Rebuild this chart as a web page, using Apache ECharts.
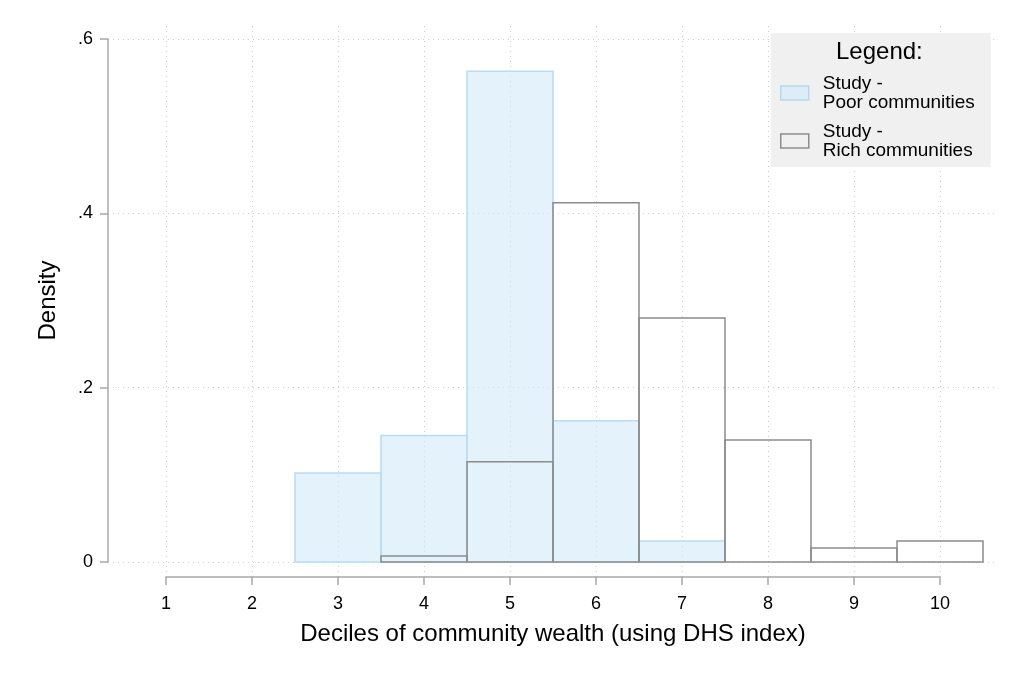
<!DOCTYPE html>
<html lang="en">
<head>
    <meta charset="UTF-8">
    <title>Deciles of community wealth</title>
    <script type="text/javascript" src="https://cdn.jsdelivr.net/npm/echarts@6/dist/echarts.min.js"></script>
    <style>
        html, body { margin: 0; padding: 0; background: #fff; }
    </style>
</head>
<body>
    <div id="main" style="width: 1023px;height:682px;"></div>
    <script type="text/javascript">
        // decile bins (bar centre) and densities
        const poorBins = [3, 4, 5, 6, 7];
        const poorDensity = [0.102, 0.145, 0.563, 0.162, 0.024];

        const richBins = [4, 5, 6, 7, 8, 9, 10];
        const richDensity = [0.007, 0.115, 0.412, 0.280, 0.140, 0.016, 0.024];

        const xTicks = [1, 2, 3, 4, 5, 6, 7, 8, 9, 10];
        const yTicks = [0, 0.2, 0.4, 0.6];

        const poorName = 'Study -\nPoor communities';
        const richName = 'Study -\nRich communities';

        const font = '"Liberation Sans", Arial, sans-serif';
        const axisGrey = '#a8a8a8';
        const gridGrey = '#cfcfcf';

        // plot area spans a bit more than 1..10 on each side (58px of 86px per unit)
        const pad = 58 / 86;

        var myChart = echarts.init(document.getElementById('main'));

        function histItem(bins, style) {
            return function (params, api) {
                var b = bins[params.dataIndex];
                var p0 = api.coord([b - 0.5, 0]);
                var p1 = api.coord([b + 0.5, api.value(1)]);
                return {
                    type: 'rect',
                    shape: { x: p0[0], y: p1[1], width: p1[0] - p0[0], height: p0[1] - p1[1] },
                    style: style
                };
            };
        }

        var option = {
            backgroundColor: '#fff',
            animation: false,
            textStyle: { fontFamily: font },
            grid: [
                { left: 108, right: 25, top: 39, bottom: 120 },
                { left: 166, right: 83, top: 26, bottom: 105 }
            ],
            xAxis: [
                {
                    type: 'value', gridIndex: 0,
                    min: xTicks[0] - pad, max: xTicks[xTicks.length - 1] + pad,
                    show: false
                },
                {
                    type: 'value', gridIndex: 1,
                    min: xTicks[0], max: xTicks[xTicks.length - 1], interval: 1,
                    axisLine: { show: true, lineStyle: { color: axisGrey, width: 1.5 } },
                    axisTick: { show: true, length: 8, lineStyle: { color: axisGrey, width: 1.5 } },
                    axisLabel: { fontSize: 18, color: '#000', margin: 18, fontFamily: font },
                    splitLine: { show: true, lineStyle: { color: gridGrey, type: [1, 4], width: 1 } },
                    name: 'Deciles of community wealth (using DHS index)',
                    nameLocation: 'middle', nameGap: 45,
                    nameTextStyle: { fontSize: 24, color: '#000', fontFamily: font }
                }
            ],
            yAxis: [
                {
                    type: 'value', gridIndex: 0,
                    min: yTicks[0], max: yTicks[yTicks.length - 1], interval: 0.2,
                    axisLine: { show: true, lineStyle: { color: axisGrey, width: 1.5 } },
                    axisTick: { show: true, length: 8, lineStyle: { color: axisGrey, width: 1.5 } },
                    axisLabel: {
                        fontSize: 18, color: '#000', margin: 15, fontFamily: font,
                        formatter: function (v) { return v === 0 ? '0' : String(+v.toFixed(1)).replace('0.', '.'); }
                    },
                    splitLine: { show: true, lineStyle: { color: gridGrey, type: [1, 4], width: 1 } },
                    name: 'Density', nameLocation: 'middle', nameGap: 48, nameRotate: 90,
                    nameTextStyle: { fontSize: 24, color: '#000', fontFamily: font }
                },
                { type: 'value', gridIndex: 1, min: 0, max: 0.6, show: false }
            ],
            legend: {
                orient: 'vertical',
                left: 771, top: 33,
                padding: [41, 16, 7, 9],
                itemGap: 10,
                itemWidth: 28, itemHeight: 14,
                backgroundColor: '#f0f0f0',
                selectedMode: false,
                textStyle: { fontSize: 19, lineHeight: 19, color: '#000', fontFamily: font, padding: [0, 0, 0, 9] },
                data: [
                    { name: poorName, icon: 'rect', itemStyle: { color: '#dcedf7', borderColor: '#b3d9f0', borderWidth: 1.5 } },
                    { name: richName, icon: 'rect', itemStyle: { color: '#f0f0f0', borderColor: '#8c8c8c', borderWidth: 1.5 } }
                ]
            },
            graphic: [{
                type: 'text', left: 836, top: 40, z: 100,
                style: { text: 'Legend:', fontSize: 24, fill: '#000', fontFamily: font }
            }],
            series: [
                {
                    name: poorName, type: 'custom', xAxisIndex: 0, yAxisIndex: 0,
                    renderItem: histItem(poorBins, { fill: 'rgba(205,232,248,0.55)', stroke: '#b8dcf1', lineWidth: 1.5 }),
                    data: poorDensity.map(function (d, i) { return [poorBins[i], d]; })
                },
                {
                    name: richName, type: 'custom', xAxisIndex: 0, yAxisIndex: 0,
                    renderItem: histItem(richBins, { fill: 'none', stroke: '#8c8c8c', lineWidth: 1.5 }),
                    data: richDensity.map(function (d, i) { return [richBins[i], d]; })
                }
            ]
        };

        myChart.setOption(option);
    </script>
</body>
</html>
